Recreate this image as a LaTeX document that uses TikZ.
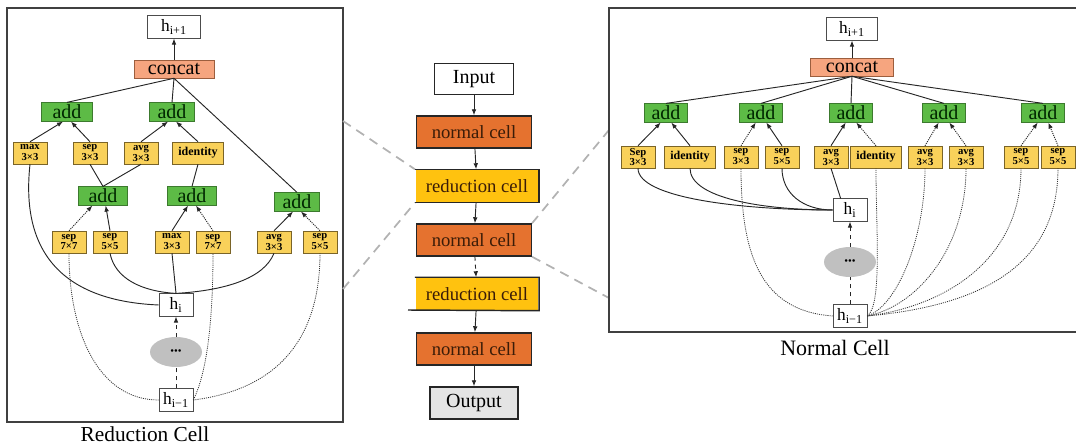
\documentclass[tikz,border=0pt]{standalone}
\usepackage{fontspec}
\setmainfont{Liberation Serif}
\usetikzlibrary{positioning}
\usetikzlibrary{arrows.meta}
\usetikzlibrary{shapes.geometric}

\definecolor{addgreen}{HTML}{5DBB46}
\definecolor{addedge}{HTML}{3C7A2E}
\definecolor{opyellow}{HTML}{F9D15A}
\definecolor{opedge}{HTML}{7A6428}
\definecolor{catsalmon}{HTML}{F6A57F}
\definecolor{catedge}{HTML}{9C5E3E}
\definecolor{normorange}{HTML}{E5722F}
\definecolor{redgold}{HTML}{FFC20F}
\definecolor{outgray}{HTML}{E4E4E4}
\definecolor{dotgray}{HTML}{C0C0C0}
\definecolor{celltext}{HTML}{3A1C08}

\tikzset{
  hstate/.style={draw=black!70, fill=white, minimum width=25.5pt, minimum height=17pt, inner sep=0pt, font=\fontsize{13}{13}\selectfont},
  catbox/.style={draw=catedge, fill=catsalmon, minimum width=60pt, minimum height=13.5pt, inner sep=0pt, font=\fontsize{15}{15}\selectfont},
  addbox/.style={draw=addedge, fill=addgreen, minimum width=34pt, minimum height=14pt, inner sep=0pt, text=black!85!green, font=\fontsize{15}{15}\selectfont},
  opbox/.style={draw=opedge, fill=opyellow, minimum width=25.5pt, minimum height=16.5pt, inner sep=0pt, align=center, font=\fontsize{8}{8.2}\selectfont\bfseries},
  idbox/.style={opbox, minimum width=38pt, font=\fontsize{9}{9}\selectfont\bfseries},
  dotsnode/.style={ellipse, fill=dotgray, minimum width=39pt, minimum height=22.5pt, inner sep=0pt, font=\fontsize{8}{8}\selectfont},
  cellbox/.style={draw=black!85, line width=1.1pt, minimum width=86pt, minimum height=24pt, inner sep=0pt, text=celltext, font=\fontsize{14}{14}\selectfont},
  conn/.style={line width=0.7pt, black!85},
  arr/.style={conn, -{Latex[length=4.5pt,width=3.5pt]}},
  darr/.style={arr, dash pattern=on 0.8pt off 0.8pt},
  skip/.style={line width=0.6pt, black!80, dash pattern=on 0.8pt off 0.8pt},
  zoomline/.style={draw=gray!60, line width=1.3pt, dash pattern=on 7pt off 5pt},
  frame/.style={line width=0.9pt, black!75},
}

\begin{document}
\begin{tikzpicture}[x=0.75pt, y=-0.75pt]
  \useasboundingbox (0,0) rectangle (1076,445);

  % ---------------- reduction cell ----------------
  \draw[frame] (7,8) rectangle (343,422);
  \node[font=\fontsize{16}{16}\selectfont] (redtitle) at (145,434) {Reduction Cell};

  \node[hstate, minimum width=40pt] (rnext) at (174,27) {h\textsubscript{i+1}};
  \node[catbox] (rcat) at (174,69) {concat};
  \node[addbox, minimum width=38pt] (radda) at (67,112) {add};
  \node[addbox] (raddb) at (172,112) {add};
  \node[addbox, minimum width=37pt] (raddc) at (103,196) {add};
  \node[addbox, minimum width=37pt] (raddd) at (192,196) {add};
  \node[addbox] (radde) at (297,202) {add};

  % upper row of ops
  \foreach \nm/\xx/\lbl in {rmx/30/{max\\3×3}, rsp/90/{sep\\3×3}, rav/141/{avg\\3×3}}
    \node[opbox] (\nm) at (\xx,153) {\lbl};
  \node[idbox] (rid) at (198,153) {identity};

  % lower row of ops
  \foreach \nm/\xx/\lbl in {rsa/69/{sep\\7×7}, rsb/110/{sep\\5×5}, rmb/172/{max\\3×3},
                             rsc/213/{sep\\7×7}, rab/274/{avg\\3×3}, rsd/320/{sep\\5×5}}
    \node[opbox] (\nm) at (\xx,242) {\lbl};

  \node[hstate] (rhi) at (176,305) {h\textsubscript{i}};
  \node[dotsnode] (rdots) at (176,352) {•••};
  \node[hstate] (rprev) at (176,400) {h\textsubscript{i−1}};

  \draw[arr] (rcat) -- (rnext);
  \foreach \a in {radda,raddb,radde}
    \draw[conn] (rcat.south) -- (\a.north);

  \draw[arr] (rmx.north) -- ([xshift=-3pt]radda.south);
  \draw[arr] (rsp.north) -- ([xshift=3pt]radda.south);
  \draw[arr] (rav.north) -- ([xshift=-3pt]raddb.south);
  \draw[arr] (rid.north) -- ([xshift=3pt]raddb.south);
  \draw[conn] (rsp.south) -- (raddc.north);
  \draw[conn] (rav.south) -- (raddc.north);
  \draw[conn] (rid.south) -- (raddd.north);

  \draw[darr] (rsa.north) -- ([xshift=-8pt]raddc.south);
  \draw[arr] (rsb.north) -- ([xshift=2pt]raddc.south);
  \draw[arr] (rmb.north) -- ([xshift=-3pt]raddd.south);
  \draw[darr] (rsc.north) -- ([xshift=3pt]raddd.south);
  \draw[arr] (rab.north) -- ([xshift=-3pt]radde.south);
  \draw[darr] (rsd.north) -- ([xshift=3pt]radde.south);

  % inputs from h_i
  \draw[conn] (rmx.south) .. controls +(-12,110) and +(-70,-3) .. (rhi.west);
  \draw[conn] (rsb.south) .. controls +(5,25) and +(-35,-2) .. (rhi.north);
  \draw[conn] (rmb.south) -- (rhi.north);
  \draw[conn] (rab.south) .. controls +(-10,25) and +(50,-3) .. (rhi.north);

  % inputs from h_{i-1}
  \draw[skip] (rprev.west) .. controls +(-60,0) and +(0,80) .. (rsa.south);
  \draw[skip] (rprev.east) .. controls +(15,-30) and +(0,60) .. (rsc.south);
  \draw[skip] (rprev.east) .. controls +(80,-10) and +(0,90) .. (rsd.south);

  \draw[arr, dashed] (rdots) -- (rhi);
  \draw[conn, dashed] (rprev) -- (rdots);

  % ---------------- network stack ----------------
  \node[cellbox, minimum width=59pt, minimum height=23pt, text=black, font=\fontsize{15}{15}\selectfont] (input) at (474,79) {Input};
  \node[cellbox, fill=normorange] (norma) at (474,132) {normal cell};
  \node[cellbox, fill=redgold, draw=none, minimum width=92pt] (reda) at (477,186) {reduction cell};
  \node[cellbox, fill=normorange] (normb) at (474,240) {normal cell};
  \node[cellbox, fill=redgold, draw=none, minimum width=92pt] (redb) at (477,294) {reduction cell};
  \node[cellbox, fill=normorange] (normc) at (474,349) {normal cell};
  \node[cellbox, fill=outgray, minimum width=66pt, text=black, font=\fontsize{15}{15}\selectfont] (output) at (474,403) {Output};

  % reduction cells are open on the left
  \draw[line width=1.1pt, black!85] (reda.north west) -- (reda.north east) -- (reda.south east) -- (reda.south west);
  \coordinate (redbtail) at (408,310);
  \draw[line width=1.1pt, black!85] (redb.north west) -- (redb.north east) -- (redb.south east) -- (redbtail);

  \draw[arr] (input) -- (norma);
  \draw[arr] (norma) -- (reda);
  \draw[arr] (reda) -- (normb);
  \draw[arr, dashed] (normb) -- (redb);
  \draw[arr] (redb) -- (normc);
  \draw[arr] (normc) -- (output);

  % zoom guides
  \coordinate (lcuta) at (343,121);
  \coordinate (lcutb) at (343,289);
  \coordinate (rcuta) at (609,130);
  \coordinate (rcutb) at (609,298);
  \draw[zoomline] (lcuta) -- (reda.north west);
  \draw[zoomline] (lcutb) -- (reda.south west);
  \draw[zoomline] (normb.north east) -- (rcuta);
  \draw[zoomline] (normb.south east) -- (rcutb);

  % ---------------- normal cell ----------------
  \draw[frame] (1076,8) -- (609,8) -- (609,332) -- (1076,332);
  \node[font=\fontsize{16.5}{16.5}\selectfont] (normtitle) at (835,348) {Normal Cell};

  \node[hstate, minimum width=38pt] (nnext) at (852,29) {h\textsubscript{i+1}};
  \node[catbox, minimum width=62pt] (ncat) at (852,67) {concat};
  \foreach \i/\xx in {1/666, 2/761, 3/851, 4/944, 5/1043}
    \node[addbox, minimum width=32pt] (nadd\i) at (\xx,113) {add};

  \foreach \i/\xx/\lbl in {1/638/{Sep\\3×3}, 3/741/{sep\\3×3}, 4/782/{sep\\5×5}, 5/831/{avg\\3×3},
                           7/925/{avg\\3×3}, 8/966/{avg\\3×3}, 9/1021/{sep\\5×5}, 10/1058/{sep\\5×5}}
    \node[opbox] (nop\i) at (\xx,157) {\lbl};
  \node[idbox] (nop2) at (690,157) {identity};
  \node[idbox] (nop6) at (876,157) {identity};

  \node[hstate] (nhi) at (850,210) {h\textsubscript{i}};
  \node[dotsnode] (ndots) at (850,262) {•••};
  \node[hstate] (nprev) at (850,316) {h\textsubscript{i−1}};

  \draw[arr] (ncat) -- (nnext);
  \foreach \i in {1,...,5}
    \draw[conn] (ncat.south) -- (nadd\i.north);

  \foreach \o/\a/\sty/\sh in {1/1/arr/-4, 2/1/arr/4, 3/2/darr/-4, 4/2/arr/4, 5/3/arr/-4,
                              6/3/darr/4, 7/4/darr/-4, 8/4/darr/4, 9/5/darr/-4, 10/5/darr/4}
    \draw[\sty] (nop\o.north) -- ([xshift=\sh pt]nadd\a.south);

  % inputs from h_i
  \draw[conn] (nop1.south) .. controls +(0,30) and +(-90,0) .. (nhi.west);
  \draw[conn] (nop2.south) .. controls +(0,30) and +(-70,0) .. (nhi.west);
  \draw[conn] (nop4.south) .. controls +(0,25) and +(-30,0) .. (nhi.west);
  \draw[conn] (nop5.south) -- ([xshift=-7pt]nhi.north);

  % inputs from h_{i-1}
  \draw[skip] (nprev.west) .. controls +(-70,-5) and +(0,90) .. (nop3.south);
  \foreach \o/\dx/\dy in {6/15/60, 7/30/70, 8/50/80, 9/80/90, 10/110/100}
    \draw[skip] (nprev.east) .. controls +(\dx,-10) and +(0,\dy) .. (nop\o.south);

  \draw[arr, dashed] (ndots) -- (nhi);
  \draw[conn, dashed] (nprev) -- (ndots);
\end{tikzpicture}
\end{document}
